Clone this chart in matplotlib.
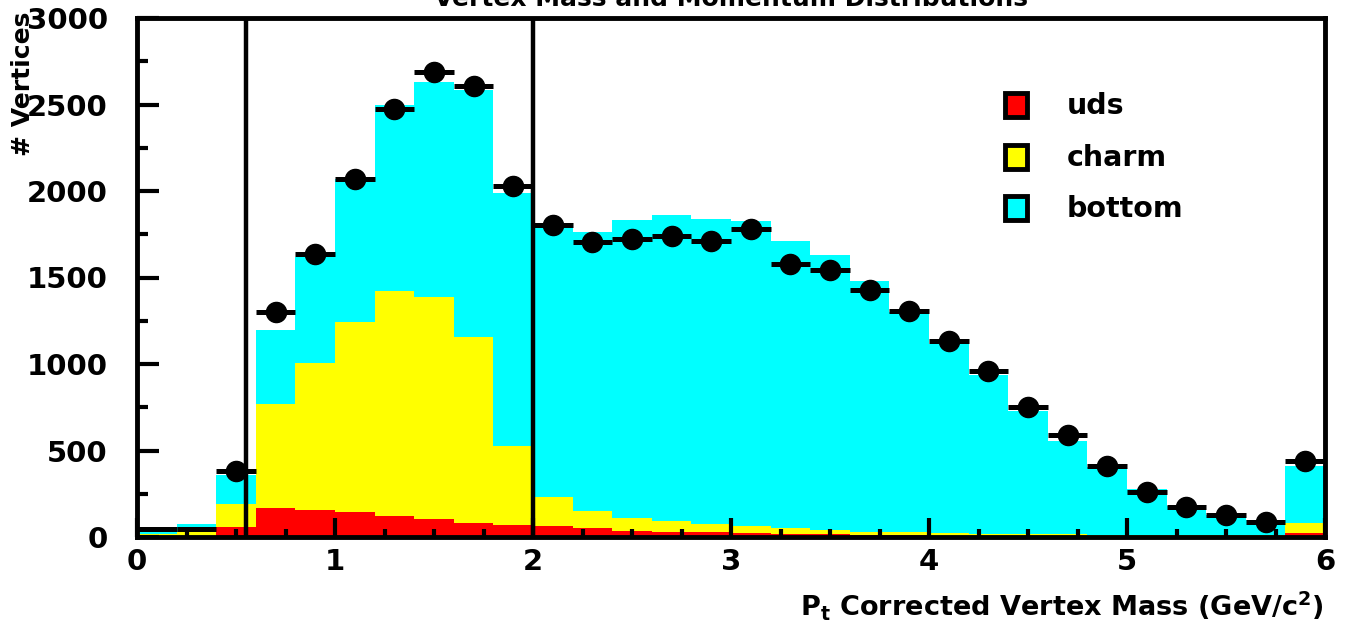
import numpy as np
import matplotlib
matplotlib.use("Agg")
import matplotlib.pyplot as plt
from matplotlib.patches import Rectangle
from matplotlib.ticker import MultipleLocator

# ---------------- data ----------------
bin_edges = np.round(np.arange(0, 6.0001, 0.2), 3)
bin_centers = (bin_edges[:-1] + bin_edges[1:]) / 2

uds = [5, 5, 60, 170, 158, 142, 124, 106, 83, 70,
       65, 50, 37, 31, 27, 22, 18, 15, 11, 9,
       7, 6, 5, 4, 3, 3, 2, 2, 2, 22]
charm_top = [18, 30, 191, 770, 1005, 1240, 1424, 1390, 1158, 527,
             231, 150, 112, 93, 75, 64, 52, 40, 30, 28,
             22, 20, 19, 16, 12, 9, 11, 10, 9, 80]
total_top = [40, 75, 357, 1198, 1620, 2072, 2496, 2628, 2582, 1990,
             1785, 1762, 1834, 1863, 1836, 1826, 1713, 1630, 1477, 1302,
             1118, 935, 727, 557, 407, 278, 180, 127, 98, 413]
data = [45, 45, 380, 1303, 1638, 2068, 2476, 2686, 2605, 2029,
        1805, 1707, 1722, 1737, 1711, 1781, 1578, 1542, 1429, 1304,
        1134, 961, 754, 590, 413, 262, 175, 127, 89, 442]
data_has_marker = [False, False] + [True] * 28

cut_lines = [0.55, 2.0]
labels = ["uds", "charm", "bottom"]
colors = ["#ff0000", "#ffff00", "#00ffff"]

uds = np.array(uds, float)
charm = np.array(charm_top, float) - uds
bottom = np.array(total_top, float) - np.array(charm_top, float)
data = np.array(data, float)
mask = np.array(data_has_marker)

# ---------------- figure ----------------
W, H = 1350, 631
fig = plt.figure(figsize=(W / 100, H / 100), dpi=100)
L, R, T, B = 137, 1325, 18, 537
ax = fig.add_axes([L / W, 1 - B / H, (R - L) / W, (B - T) / H])

FONT = "DejaVu Sans"

width = 0.2
ax.bar(bin_centers, uds, width=width, color=colors[0], linewidth=0, zorder=1)
ax.bar(bin_centers, charm, width=width, bottom=uds, color=colors[1], linewidth=0, zorder=1)
ax.bar(bin_centers, bottom, width=width, bottom=uds + charm, color=colors[2], linewidth=0, zorder=1)

for xc in cut_lines:
    ax.axvline(xc, color="black", lw=3.2, zorder=2)

ax.errorbar(bin_centers[mask], data[mask], xerr=width / 2, fmt="o", color="black",
            ms=14.5, elinewidth=3.6, capsize=0, zorder=3)
ax.errorbar(bin_centers[~mask], data[~mask], xerr=width / 2, fmt="none", ecolor="black",
            elinewidth=3.6, capsize=0, zorder=3)

ax.set_xlim(0, 6)
ax.set_ylim(0, 3000)

for s in ax.spines.values():
    s.set_linewidth(3.5)
    s.set_zorder(5)

ax.xaxis.set_major_locator(MultipleLocator(1))
ax.xaxis.set_minor_locator(MultipleLocator(0.25))
ax.yaxis.set_major_locator(MultipleLocator(500))
ax.yaxis.set_minor_locator(MultipleLocator(250))
ax.tick_params(axis="x", which="major", direction="in", length=14, width=3, pad=8,
               labelsize=21, top=False)
ax.tick_params(axis="x", which="minor", direction="in", length=6, width=3, top=False)
ax.tick_params(axis="y", which="major", direction="in", length=16, width=3, pad=21,
               labelsize=21, right=False)
ax.tick_params(axis="y", which="minor", direction="in", length=8, width=3, right=False)
for lab in ax.get_xticklabels() + ax.get_yticklabels():
    lab.set_fontfamily(FONT)
    lab.set_fontweight("bold")

# axis titles
fig.text(1324 / W, 1 - 605 / H,
         r"P$_{\mathbf{t}}$ Corrected Vertex Mass (GeV/c$^{\mathbf{2}}$)",
         ha="right", va="center", fontsize=19.5, fontweight="bold", family=FONT)
fig.text(23 / W, 1 - 84 / H, "# Vertices", rotation=90, ha="center", va="center",
         fontsize=18, fontweight="bold", family=FONT)
fig.text(731 / W, 1 - 6 / H, "Vertex Mass and Momentum Distributions",
         ha="center", va="baseline", fontsize=18, fontweight="bold", family=FONT)

# legend
box_y = [105, 157, 208]
for lab, col, yc in zip(labels, colors, box_y):
    fig.patches.append(Rectangle(((1005) / W, 1 - (yc + 12) / H), 22 / W, 24 / H,
                                 transform=fig.transFigure, facecolor=col,
                                 edgecolor="black", linewidth=3.5, figure=fig))
    fig.text(1067 / W, 1 - (yc + 1) / H, lab, ha="left", va="center",
             fontsize=20.5, fontweight="bold", family=FONT)

fig.savefig("out.png", dpi=100)
